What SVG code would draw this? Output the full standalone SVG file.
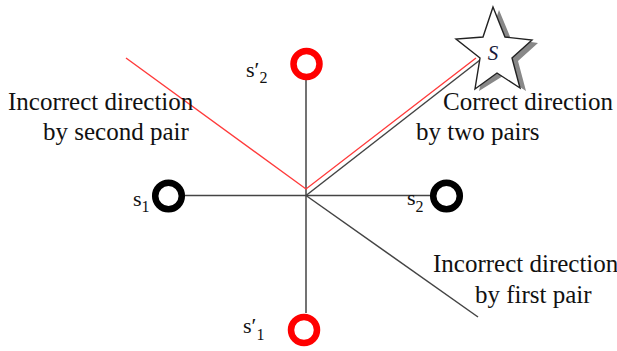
<svg xmlns="http://www.w3.org/2000/svg" width="617" height="351" viewBox="0 0 617 351">
<style>
.t{font-family:"Liberation Serif","Times New Roman",Times,"DejaVu Serif",serif;font-size:25px;fill:#111}
.s{font-family:"Liberation Serif","Times New Roman",Times,"DejaVu Serif",serif;font-size:22px;fill:#111}
.sub{font-size:16px}
.blk{fill:none;stroke:#000;stroke-width:6.5}
.red{fill:none;stroke:#ff0000;stroke-width:6.5}
.ln{stroke:#444;stroke-width:1.5;fill:none}
.rl{stroke:#ff3b3b;stroke-width:1.4;fill:none}
</style>
<rect width="617" height="351" fill="#fff"/>
<g id="connectors">
<line class="ln" x1="306" y1="80" x2="306" y2="313"/>
<line class="ln" x1="185" y1="195.5" x2="430" y2="195.5"/>
<line class="ln" x1="306" y1="195.5" x2="480" y2="60"/>
<line class="ln" x1="306" y1="195.5" x2="478" y2="317"/>
<polyline class="rl" points="126,58 306,189 476,58"/>
</g>
<g id="star">
<polygon points="499,10 489,39 461,42 486,61 479,91 503,76 526,91 518,61 538,43 511,39" fill="#888"/>
<polygon points="493,7 483,37 456,39 480,58 475,89 497,73 520,88 512,58 532,40 505,37" fill="#fff" stroke="#222" stroke-width="1.4" stroke-linejoin="miter"/>
<text x="493" y="60" text-anchor="middle" font-family="Liberation Serif, Times New Roman, DejaVu Serif, serif" font-style="italic" font-size="21" fill="#1a1a3a">S</text>
</g>
<g id="s1">
<circle class="blk" cx="168.5" cy="196" r="13.3"/>
<text class="s" x="133" y="206">s<tspan class="sub" dy="6">1</tspan></text>
</g>
<g id="s2">
<circle class="blk" cx="446.5" cy="196" r="13.3"/>
<text class="s" x="407" y="205">s<tspan class="sub" dy="7">2</tspan></text>
</g>
<g id="s-prime-2">
<circle class="red" cx="306.5" cy="64" r="13"/>
<text class="s" x="246" y="77">s′<tspan class="sub" dy="6">2</tspan></text>
</g>
<g id="s-prime-1">
<circle class="red" cx="304" cy="330" r="13"/>
<text class="s" x="243" y="333">s′<tspan class="sub" dy="7">1</tspan></text>
</g>
<g id="labels">
<text class="t" x="8" y="110">Incorrect direction</text>
<text class="t" x="43" y="140">by second pair</text>
<text class="t" x="443" y="110">Correct direction</text>
<text class="t" x="416" y="140">by two pairs</text>
<text class="t" x="433" y="272">Incorrect direction</text>
<text class="t" x="475" y="303">by first pair</text>
</g>
</svg>
